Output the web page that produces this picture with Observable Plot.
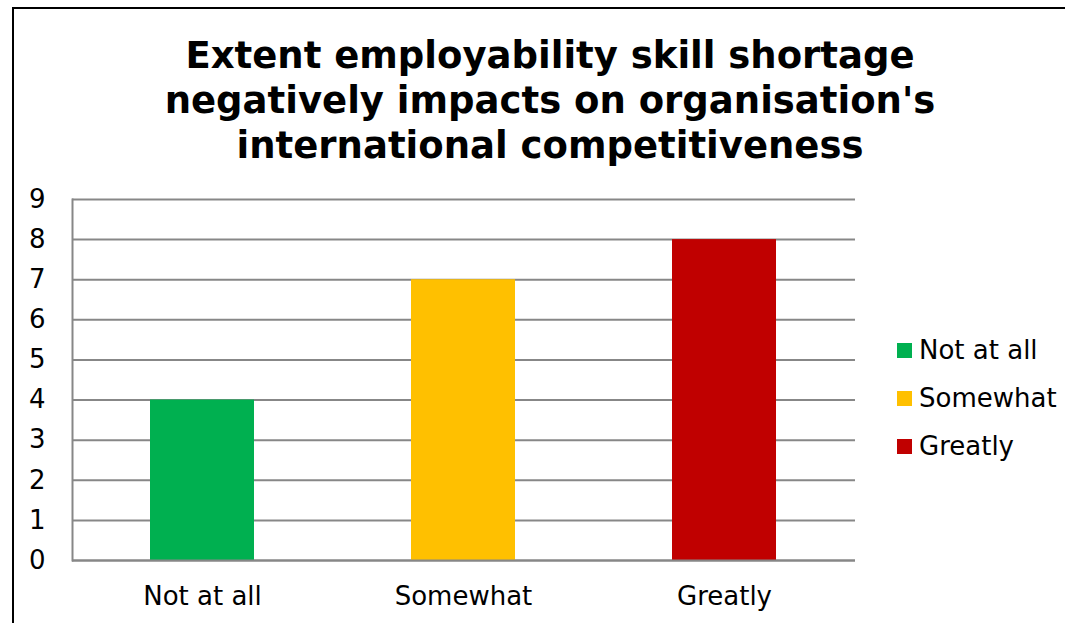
<!DOCTYPE html>
<html>
<head>
<meta charset="utf-8">
<script src="https://cdn.jsdelivr.net/npm/d3@7"></script>
<script src="https://cdn.jsdelivr.net/npm/@observablehq/plot@0.6"></script>
<style>
  html, body { margin: 0; padding: 0; background: #fff; }
  #wrap { position: relative; width: 1065px; height: 623px; overflow: hidden; font-family: "DejaVu Sans", Verdana, sans-serif; }
  #frame { position: absolute; left: 12px; top: 7px; width: 1060px; height: 630px; border-top: 2px solid #000; border-left: 2px solid #000; box-sizing: border-box; }
  #title { position: absolute; left: 0; top: 33px; width: 1100px; text-align: center; font-weight: bold; font-size: 37px; line-height: 45px; color: #000; }
  #chart { position: absolute; left: 0; top: 0; }
  #legend { position: absolute; left: 897px; top: 326px; }
  .lg-swatches-columns .lg-swatch { padding-bottom: 0 !important; height: 48px; }
  .lg-swatch svg { margin-right: 7px !important; }
</style>
</head>
<body>
<div id="wrap">
  <div id="frame"></div>
  <div id="chart"></div>
  <div id="title">Extent employability skill shortage<br>negatively impacts on organisation's<br>international competitiveness</div>
  <div id="legend"></div>
</div>
<script>
const categories = ["Not at all", "Somewhat", "Greatly"];
const values = [4, 7, 8];
const colors = ["#00B050", "#FFC000", "#C00000"];
const yTicks = [0, 1, 2, 3, 4, 5, 6, 7, 8, 9];

const data = categories.map((c, i) => ({category: c, value: values[i]}));

const chart = Plot.plot({
  width: 1065,
  height: 623,
  marginLeft: 72,
  marginRight: 210,
  marginTop: 199,
  marginBottom: 63,
  style: {background: "transparent", fontFamily: "DejaVu Sans, Verdana, sans-serif", fontSize: "26px", color: "#000"},
  x: {domain: categories, paddingInner: 0.6, paddingOuter: 0.3, label: null},
  y: {domain: [0, 9], label: null},
  color: {domain: categories, range: colors},
  marks: [
    Plot.ruleY(yTicks, {stroke: "#878787", strokeWidth: 2}),
    Plot.barY(data, {x: "category", y: "value", fill: "category"}),
    Plot.frame({anchor: "left", stroke: "#878787", strokeWidth: 2}),
    Plot.ruleY([0], {stroke: "#878787", strokeWidth: 2}),
    Plot.axisY({ticks: yTicks, tickSize: 0, tickPadding: 27, fontSize: 26, label: null}),
    Plot.axisX({tickSize: 0, tickPadding: 26, fontSize: 26, label: null})
  ]
});
document.getElementById("chart").appendChild(chart);

const legend = Plot.legend({
  color: {type: "ordinal", domain: categories, range: colors},
  swatchSize: 15,
  columns: 1,
  className: "lg",
  style: {fontSize: "26px", fontFamily: "DejaVu Sans, Verdana, sans-serif", color: "#000"}
});
document.getElementById("legend").appendChild(legend);
</script>
</body>
</html>
